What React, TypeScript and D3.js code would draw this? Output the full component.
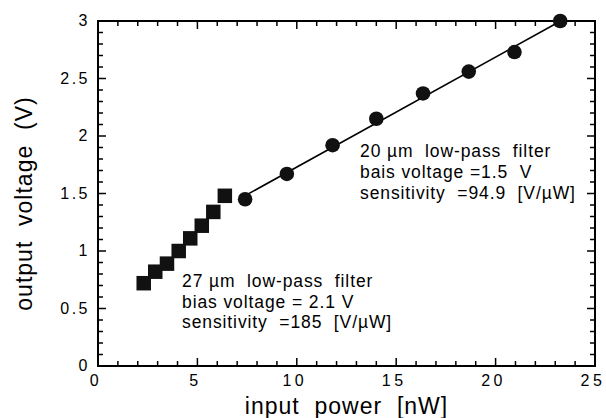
import * as d3 from 'd3'

const W = 606
const H = 418
const M = { left: 98, right: 11, top: 21, bottom: 52 }

// 27 um filter (squares)
const squareX = [2.3, 2.88, 3.47, 4.06, 4.64, 5.22, 5.8, 6.38]
const squareY = [0.72, 0.82, 0.89, 1.0, 1.11, 1.22, 1.34, 1.48]
// 20 um filter (circles)
const circleX = [7.4, 9.5, 11.8, 14.0, 16.35, 18.65, 20.95, 23.25]
const circleY = [1.45, 1.67, 1.92, 2.15, 2.37, 2.56, 2.73, 3.0]

const xTicks = [0, 5, 10, 15, 20, 25]
const yTicks = [0, 0.5, 1, 1.5, 2, 2.5, 3]

const noteUpper = ['20 µm  low-pass  filter', 'bais voltage =1.5  V', 'sensitivity  =94.9  [V/µW]']
const noteLower = ['27 µm  low-pass  filter', 'bias voltage = 2.1 V', 'sensitivity  =185  [V/µW]']

const FONT = '"Liberation Sans", Arial, Helvetica, sans-serif'

function fitLine(xs: number[], ys: number[]) {
  const mx = d3.mean(xs)!
  const my = d3.mean(ys)!
  const num = d3.sum(xs, (x, i) => (x - mx) * (ys[i] - my))
  const den = d3.sum(xs, (x) => (x - mx) ** 2)
  const slope = num / den
  const b = my - slope * mx
  const ext = d3.extent(xs) as [number, number]
  return ext.map((x) => [x, b + slope * x] as [number, number])
}

export default function App() {
  const x = d3.scaleLinear().domain([0, 25]).range([M.left, W - M.right])
  const y = d3.scaleLinear().domain([0, 3]).range([H - M.bottom, M.top])
  const [x0, x1] = x.range()
  const [y0, y1] = y.range()

  const minorX = d3.range(0, 26, 1)
  const minorY = d3.range(0, 31, 1).map((v) => v / 10)
  const isMajorX = (v: number) => v % 5 === 0
  const isMajorY = (v: number) => Math.abs(v * 2 - Math.round(v * 2)) < 1e-6

  const fit = fitLine(circleX, circleY)
  const line = d3.line<[number, number]>().x((d) => x(d[0])).y((d) => y(d[1]))

  const sq = 14.5
  const pre = { whiteSpace: 'pre' as const }
  return (
    <svg width={W} height={H} style={{ position: 'absolute', left: 0, top: 0, background: '#fff' }} fontFamily={FONT}>
      {/* ticks */}
      <g stroke="#000" strokeWidth={1.5}>
        {minorX.map((v) => {
          const len = isMajorX(v) ? 8 : 5
          return (
            <g key={'xt' + v}>
              <line x1={x(v)} x2={x(v)} y1={y0} y2={y0 - len} />
              <line x1={x(v)} x2={x(v)} y1={y1} y2={y1 + len} />
            </g>
          )
        })}
        {minorY.map((v) => {
          const len = isMajorY(v) ? 8 : 5
          return (
            <g key={'yt' + v}>
              <line x1={x0} x2={x0 + len} y1={y(v)} y2={y(v)} />
              <line x1={x1} x2={x1 - len} y1={y(v)} y2={y(v)} />
            </g>
          )
        })}
      </g>
      <rect x={x0} y={y1} width={x1 - x0} height={y0 - y1} fill="none" stroke="#000" strokeWidth={2} />

      {/* tick labels */}
      {xTicks.map((v) => (
        <text key={'xl' + v} x={x(v) - 2} y={y0 + 20} textAnchor="middle" fontSize={16} letterSpacing={3.5}>
          {v}
        </text>
      ))}
      {yTicks.map((v) => (
        <text key={'yl' + v} x={x0 - 8} y={y(v) + 5} textAnchor="end" fontSize={16} letterSpacing={2.5}>
          {v}
        </text>
      ))}

      {/* axis titles */}
      <text x={(x0 + x1) / 2} y={H - 4} textAnchor="middle" fontSize={23} letterSpacing={1} style={pre}>
        {'input  power  [nW]'}
      </text>
      <text
        transform={`translate(32,${(y0 + y1) / 2 + 10}) rotate(-90)`}
        textAnchor="middle"
        fontSize={23}
        letterSpacing={1}
        style={pre}
      >
        {'output  voltage  (V)'}
      </text>

      {/* fit line */}
      <path d={line(fit) ?? ''} fill="none" stroke="#000" strokeWidth={1.6} />

      {/* markers */}
      {squareX.map((v, i) => (
        <rect key={'s' + i} x={x(v) - sq / 2} y={y(squareY[i]) - sq / 2} width={sq} height={sq} fill="#111" />
      ))}
      {circleX.map((v, i) => (
        <circle key={'c' + i} cx={x(v)} cy={y(circleY[i])} r={7.3} fill="#111" />
      ))}

      {/* annotations */}
      {noteUpper.map((t, i) => (
        <text key={'nu' + i} x={360} y={157 + i * 21} fontSize={17.5} letterSpacing={0.9} style={pre}>
          {t}
        </text>
      ))}
      {noteLower.map((t, i) => (
        <text key={'nl' + i} x={182} y={287 + i * 20.5} fontSize={17.5} letterSpacing={0.9} style={pre}>
          {t}
        </text>
      ))}
    </svg>
  )
}
